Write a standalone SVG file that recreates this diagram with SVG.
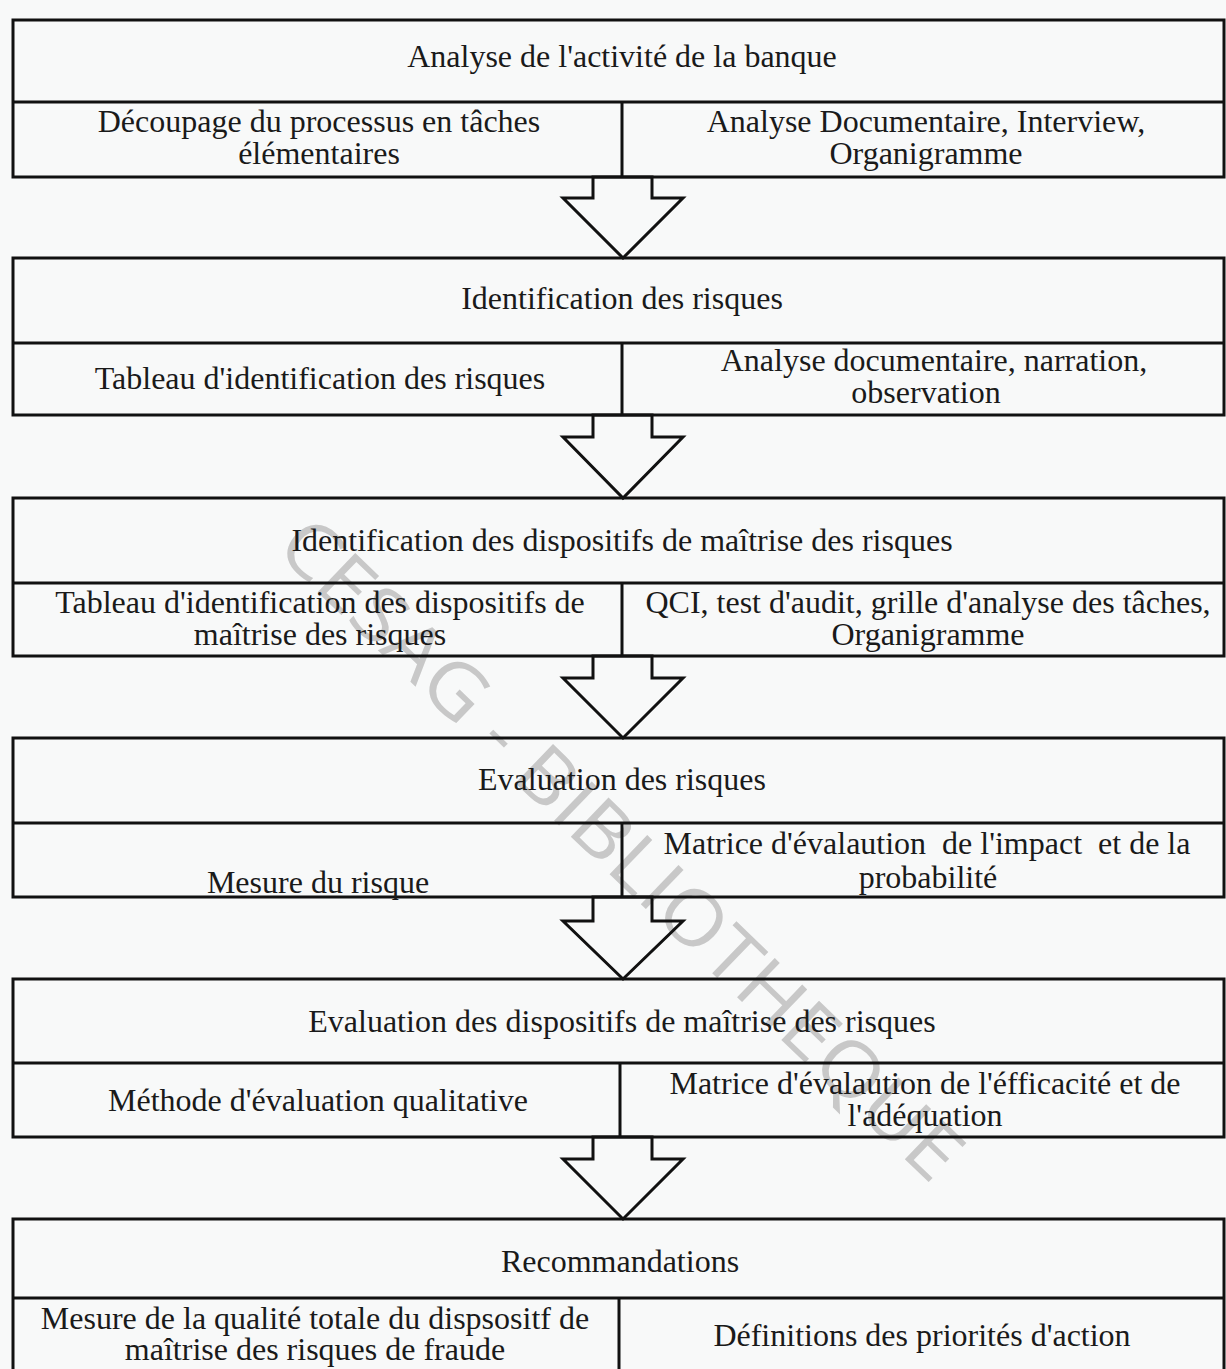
<svg xmlns="http://www.w3.org/2000/svg" width="1226" height="1369" viewBox="0 0 1226 1369">
  <style>
    .box { fill: none; stroke: #111; stroke-width: 3; }
    .rule { stroke: #111; stroke-width: 3; }
    .arrow { fill: none; stroke: #111; stroke-width: 3; stroke-linejoin: miter; }
    text { font-family: "Liberation Serif", "Times New Roman", serif; font-size: 32px; fill: #1a1a1a; text-anchor: middle; }
    .mark { font-family: "Open Sans", "DejaVu Sans", sans-serif; font-weight: 400; font-size: 76px; fill: #c8c8c8; text-anchor: start; }
  </style>
  <rect width="1226" height="1369" fill="#f8f9f9"/>

  <!-- library stamp across the page, under the ink -->
  <text class="mark" x="0" y="0" transform="translate(274,550) rotate(44)" textLength="915" lengthAdjust="spacingAndGlyphs">CESAG - BIBLIOTHEQUE</text>

  <!-- hollow arrows between steps -->
  <g id="connectors">
    <polygon class="arrow" points="593,177 593,198 563,198 623,258 683,198 652,198 652,177"/>
    <polygon class="arrow" points="593,415 593,437 563,437 623,498 683,437 652,437 652,415"/>
    <polygon class="arrow" points="593,656 593,678 563,678 623,738 683,678 652,678 652,656"/>
    <polygon class="arrow" points="593,897 593,921 563,921 623,979 683,921 652,921 652,897"/>
    <polygon class="arrow" points="593,1137 593,1159 563,1159 623,1219 683,1159 652,1159 652,1137"/>
  </g>

  <g id="step1">
    <rect class="box" x="13" y="20" width="1211" height="157"/>
    <line class="rule" x1="13" y1="102" x2="1224" y2="102"/>
    <line class="rule" x1="622" y1="102" x2="622" y2="177"/>
    <text x="622" y="67">Analyse de l'activité de la banque</text>
    <text x="319" y="132">Découpage du processus en tâches<tspan x="319" dy="32">élémentaires</tspan></text>
    <text x="926" y="132">Analyse Documentaire, Interview,<tspan x="926" dy="32">Organigramme</tspan></text>
  </g>

  <g id="step2">
    <rect class="box" x="13" y="258" width="1211" height="157"/>
    <line class="rule" x1="13" y1="343" x2="1224" y2="343"/>
    <line class="rule" x1="622" y1="343" x2="622" y2="415"/>
    <text x="622" y="309">Identification des risques</text>
    <text x="320" y="389">Tableau d'identification des risques</text>
    <text x="934" y="371">Analyse documentaire, narration,<tspan x="926" dy="32">observation</tspan></text>
  </g>

  <g id="step3">
    <rect class="box" x="13" y="498" width="1211" height="158"/>
    <line class="rule" x1="13" y1="583" x2="1224" y2="583"/>
    <line class="rule" x1="622" y1="583" x2="622" y2="656"/>
    <text x="622" y="551">Identification des dispositifs de maîtrise des risques</text>
    <text x="320" y="613">Tableau d'identification des dispositifs de<tspan x="320" dy="32">maîtrise des risques</tspan></text>
    <text x="928" y="613">QCI, test d'audit, grille d'analyse des tâches,<tspan x="928" dy="32">Organigramme</tspan></text>
  </g>

  <g id="step4">
    <rect class="box" x="13" y="738" width="1211" height="159"/>
    <line class="rule" x1="13" y1="823" x2="1224" y2="823"/>
    <line class="rule" x1="622" y1="823" x2="622" y2="897"/>
    <text x="622" y="790">Evaluation des risques</text>
    <text x="318" y="893">Mesure du risque</text>
    <text x="927" y="854" xml:space="preserve">Matrice d'évalaution  de l'impact  et de la<tspan x="928" dy="34">probabilité</tspan></text>
  </g>

  <g id="step5">
    <rect class="box" x="13" y="979" width="1211" height="158"/>
    <line class="rule" x1="13" y1="1063" x2="1224" y2="1063"/>
    <line class="rule" x1="620" y1="1063" x2="620" y2="1137"/>
    <text x="622" y="1032">Evaluation des dispositifs de maîtrise des risques</text>
    <text x="318" y="1111">Méthode d'évaluation qualitative</text>
    <text x="925" y="1094">Matrice d'évalaution de l'éfficacité et de<tspan x="925" dy="32">l'adéquation</tspan></text>
  </g>

  <g id="step6">
    <rect class="box" x="13" y="1219" width="1211" height="160"/>
    <line class="rule" x1="13" y1="1298" x2="1224" y2="1298"/>
    <line class="rule" x1="619" y1="1298" x2="619" y2="1369"/>
    <text x="620" y="1272">Recommandations</text>
    <text x="315" y="1329">Mesure de la qualité totale du dispsositf de<tspan x="315" dy="31">maîtrise des risques de fraude</tspan></text>
    <text x="922" y="1346">Définitions des priorités d'action</text>
  </g>
</svg>
